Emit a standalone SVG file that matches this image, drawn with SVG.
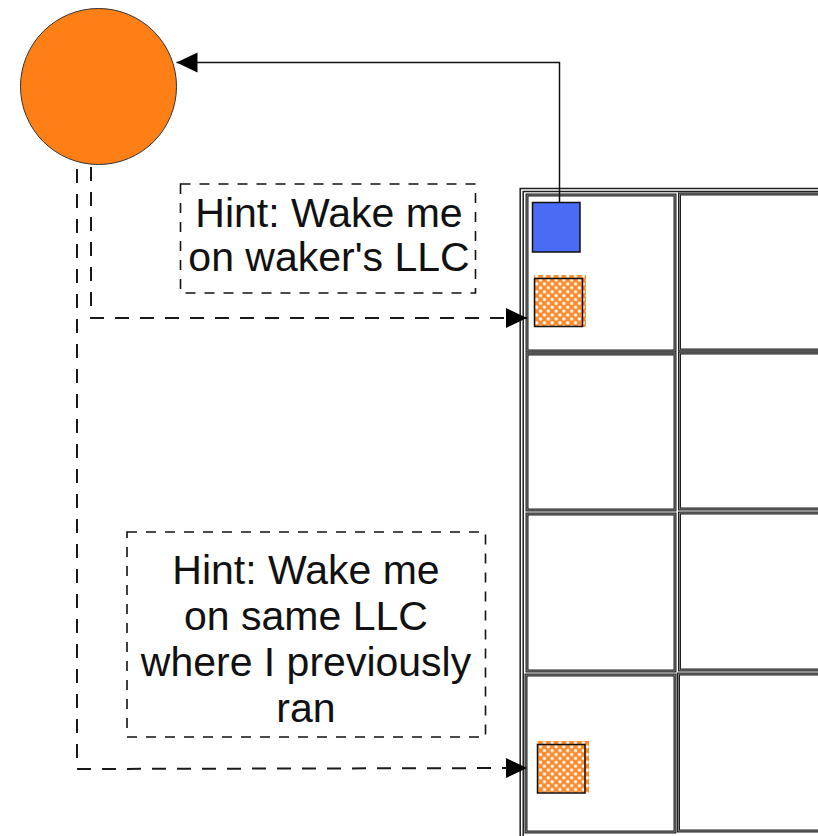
<svg xmlns="http://www.w3.org/2000/svg" width="818" height="836" viewBox="0 0 818 836">
  <defs>
    <marker id="arrow" markerUnits="userSpaceOnUse" markerWidth="22" markerHeight="22" viewBox="0 0 22 22" refX="21" refY="11" orient="auto">
      <path d="M0,1 L21,11 L0,21 Z" fill="#000"/>
    </marker>
    <pattern id="hatch" patternUnits="userSpaceOnUse" width="5.5" height="5.5" patternTransform="rotate(45)">
      <rect width="5.5" height="5.5" fill="#fa8a2c"/>
      <circle cx="2.75" cy="2.75" r="1.7" fill="#fff"/>
    </pattern>
    <style>
      .cell-out { fill: #fff; stroke: #1e1e1e; stroke-width: 3; }
      .cell-in { fill: none; stroke: #999; stroke-width: 0.8; }
      .hint { fill: #fff; stroke: #111; stroke-width: 1.6; stroke-dasharray: 10 9; }
      .label { font-family: "Liberation Sans", Arial, sans-serif; font-size: 41px; fill: #111; text-anchor: middle; }
      .dash { fill: none; stroke: #1a1a1a; stroke-width: 2; stroke-dasharray: 14 11; }
      .task { stroke: #111; stroke-width: 1.5; }
    </style>
  </defs>

  <rect width="818" height="836" fill="#fff"/>

  <!-- socket container with its core cells -->
  <g id="socket">
    <rect x="521.7" y="190" width="320" height="660" fill="#fff" stroke="#1e1e1e" stroke-width="4.5"/>
    <rect x="521.7" y="190" width="320" height="660" fill="none" stroke="#fff" stroke-width="1.5"/>
  </g>
  <g id="cell-r1c1"><rect class="cell-out" x="527" y="195" width="148" height="156"/><rect class="cell-in" x="527" y="195" width="148" height="156"/></g>
  <g id="cell-r1c2"><rect class="cell-out" x="679.5" y="194" width="150" height="156"/><rect class="cell-in" x="679.5" y="194" width="150" height="156"/></g>
  <g id="cell-r2c1"><rect class="cell-out" x="527" y="354" width="148" height="156"/><rect class="cell-in" x="527" y="354" width="148" height="156"/></g>
  <g id="cell-r2c2"><rect class="cell-out" x="679.5" y="353" width="150" height="156"/><rect class="cell-in" x="679.5" y="353" width="150" height="156"/></g>
  <g id="cell-r3c1"><rect class="cell-out" x="527" y="514" width="148" height="157"/><rect class="cell-in" x="527" y="514" width="148" height="157"/></g>
  <g id="cell-r3c2"><rect class="cell-out" x="679.5" y="513" width="150" height="157"/><rect class="cell-in" x="679.5" y="513" width="150" height="157"/></g>
  <g id="cell-r4c1"><rect class="cell-out" x="526" y="675" width="149" height="157"/><rect class="cell-in" x="526" y="675" width="149" height="157"/></g>
  <g id="cell-r4c2"><rect class="cell-out" x="678.5" y="674" width="151" height="157"/><rect class="cell-in" x="678.5" y="674" width="151" height="157"/></g>

  <!-- waker task (blue) -->
  <g id="waker">
    <rect class="task" x="532.5" y="202.5" width="47.5" height="49.5" fill="#4a6cf5"/>
  </g>

  <!-- candidate wakee placements (hatched) -->
  <g id="wakee-llc-waker">
    <rect x="534" y="275" width="52" height="52" fill="url(#hatch)"/>
    <rect class="task" x="534.5" y="278.5" width="48" height="48" fill="none"/>
  </g>
  <g id="wakee-llc-prev">
    <rect x="537" y="741" width="52" height="52" fill="url(#hatch)"/>
    <rect class="task" x="537.5" y="744.5" width="47.5" height="48.5" fill="none"/>
  </g>

  <!-- wakee task -->
  <g id="wakee">
    <circle cx="98.5" cy="86.5" r="78" fill="#fd7f16" stroke="#333" stroke-width="1"/>
  </g>

  <!-- hint labels -->
  <g id="hint-waker">
    <rect class="hint" x="180.5" y="184" width="295" height="109"/>
    <text class="label" x="329" y="227">Hint: Wake me</text>
    <text class="label" x="329" y="271">on waker's LLC</text>
  </g>
  <g id="hint-prev">
    <rect class="hint" x="127" y="532" width="358.5" height="205"/>
    <text class="label" x="306" y="584">Hint: Wake me</text>
    <text class="label" x="306" y="630">on same LLC</text>
    <text class="label" x="306" y="676">where I previously</text>
    <text class="label" x="306" y="722">ran</text>
  </g>

  <!-- connectors -->
  <g id="connectors">
    <path d="M559.5,202 L559.5,62.5 L176.5,62.5" fill="none" stroke="#111" stroke-width="1.5" marker-end="url(#arrow)"/>
    <path class="dash" d="M91,167 L91,318 L527,318" marker-end="url(#arrow)"/>
    <path class="dash" d="M77,169 L77,769 L527,768" marker-end="url(#arrow)"/>
  </g>
</svg>
